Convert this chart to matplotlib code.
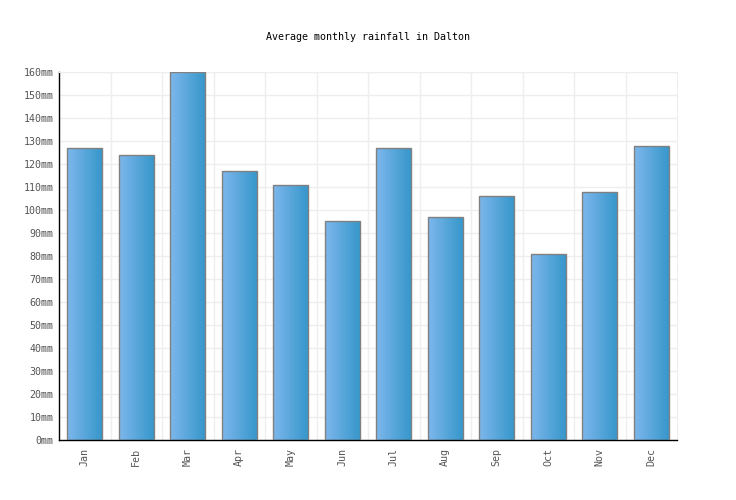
import matplotlib
matplotlib.use("Agg")
import matplotlib.pyplot as plt
from matplotlib.colors import LinearSegmentedColormap
import numpy as np

months = ["Jan", "Feb", "Mar", "Apr", "May", "Jun",
          "Jul", "Aug", "Sep", "Oct", "Nov", "Dec"]
rainfall = [127, 124, 160, 117, 111, 95, 127, 97, 106, 81, 108, 128]
yticks = list(range(0, 161, 10))

plt.rcParams['font.family'] = ['DejaVu Sans Mono']

fig = plt.figure(figsize=(7.36, 5), dpi=100)
ax = fig.add_axes([59 / 736, 60 / 500, 618 / 736, 368 / 500])

x = np.arange(len(months))
bars = ax.bar(x, rainfall, width=0.67, facecolor='none',
              edgecolor='#808080', linewidth=1, zorder=3)

# horizontal gradient fill, light on the left, darker on the right
cmap = LinearSegmentedColormap.from_list('rain', ['#7db7ec', '#3797cb'])
grad = np.linspace(0, 1, 64).reshape(1, -1)
for b in bars:
    x0, w, h = b.get_x(), b.get_width(), b.get_height()
    im = ax.imshow(grad, cmap=cmap, aspect='auto', extent=[x0, x0 + w, 0, h],
                   zorder=2, interpolation='bilinear')
    im.set_clip_path(b)

ax.set_xlim(-0.5, len(months) - 0.5)
ax.set_ylim(0, 160)
ax.set_xticks(x)
ax.set_xticklabels(months, rotation=90, fontsize=7.2, color='#555555')
ax.set_yticks(yticks)
ax.set_yticklabels([f"{v}mm" for v in yticks], fontsize=7.2, color='#555555')

ax.set_xticks(np.arange(0.5, len(months) - 0.5, 1), minor=True)
ax.grid(True, which='major', axis='y', color='#eeeeee', linewidth=1, zorder=0)
ax.grid(True, which='minor', axis='x', color='#eeeeee', linewidth=1, zorder=0)
ax.tick_params(axis='both', which='both', length=0, pad=4)
ax.tick_params(axis='x', pad=6)

for side in ['top', 'right']:
    ax.spines[side].set_color('#eeeeee')
for side in ['left', 'bottom']:
    ax.spines[side].set_color('black')
    ax.spines[side].set_linewidth(1)

fig.text(368 / 736, 1 - 37 / 500, "Average monthly rainfall in Dalton",
         ha='center', va='center', fontsize=7.2, color='black')

fig.savefig("out.png", dpi=100)
